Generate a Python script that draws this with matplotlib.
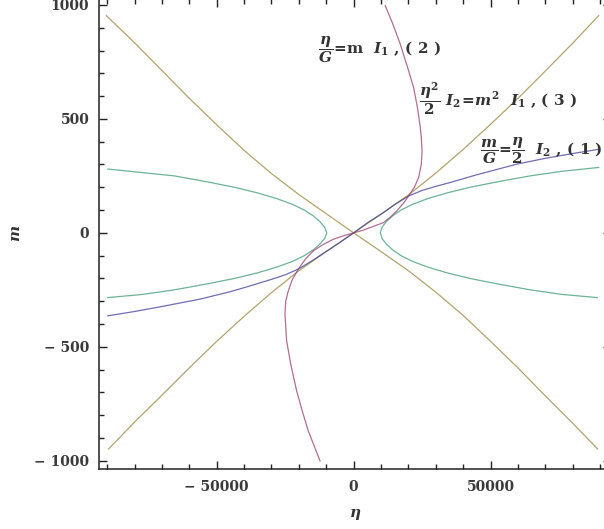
import matplotlib.pyplot as plt
from matplotlib.ticker import MultipleLocator

plt.rcParams['mathtext.fontset'] = 'custom'
plt.rcParams['mathtext.rm'] = 'DejaVu Serif:bold'
plt.rcParams['mathtext.it'] = 'DejaVu Serif:italic:bold'
plt.rcParams['mathtext.bf'] = 'DejaVu Serif:bold'

# curve readings (eta, m)
# (3) tan, rising branch
tan_up_eta = [-89500, -80000, -70000, -60000, -50000, -40000, -30000, -20000, -10000, 0,
              10000, 20000, 30000, 40000, 50000, 60000, 70000, 80000, 89500]
tan_up_m = [-948, -830, -712, -592, -476, -366, -262, -166, -82, 0,
            82, 166, 262, 366, 476, 590, 710, 832, 953]
# (3) tan, falling branch
tan_dn_eta = [-90300, -80000, -70000, -60000, -50000, -40000, -30000, -20000, -10000, 0,
              10000, 20000, 30000, 40000, 50000, 60000, 70000, 80000, 89100]
tan_dn_m = [953, 834, 712, 590, 474, 362, 260, 168, 84, 0,
            -82, -166, -260, -362, -476, -592, -715, -835, -948]
# (1) blue
blue_eta = [-89800, -80000, -70000, -56200, -45000, -37900, -30000, -25000, -20200, -15000, -9800, -5000, 0,
            5000, 10900, 15000, 20100, 25000, 30000, 35300, 45000, 59800, 70000, 80000, 89700]
blue_m = [-364, -345, -323, -291, -258, -233, -204, -184, -159, -121, -80, -42, 0,
          44, 89, 124, 162, 186, 204, 221, 255, 302, 327, 348, 367]
# (2) magenta
mag_eta = [-12270, -14400, -16560, -18800, -20800, -22900, -24470, -25090, -24800, -23880, -22400, -20220,
           -17600, -14720, -11000, -7400, -3500, 0,
           3000, 6040, 10900, 13500, 15800, 18200, 20070, 22200, 23740, 24700, 25000, 24700,
           24360, 23300, 21900, 19600, 17030, 14200, 11540]
mag_m = [-1001, -935, -869, -780, -694, -580, -474, -357, -300, -255, -205, -159,
         -115, -79, -50, -28, -12, 0,
         10, 23, 45, 70, 97, 130, 162, 200, 243, 300, 360, 420,
         462, 550, 638, 730, 828, 920, 997]
# green, right branch
grn_r_m = [-284, -270, -250, -225, -200, -175, -150, -125, -100, -75, -50, -25, 0,
           25, 50, 75, 100, 125, 150, 175, 200, 225, 250, 270, 287]
grn_r_eta = [89000, 76000, 64500, 53000, 42500, 34000, 27000, 21500, 17300, 14300, 12000, 10400, 9750,
             10400, 12000, 14300, 17300, 21500, 27000, 34000, 42500, 53000, 64500, 76000, 89500]
# green, left branch
grn_l_m = [-284, -270, -250, -225, -200, -175, -150, -125, -100, -75, -50, -25, 0,
           25, 50, 75, 100, 125, 150, 175, 200, 225, 250, 280]
grn_l_eta = [-89800, -77000, -65500, -54000, -43500, -35000, -28000, -22300, -18000, -14800, -12400, -10600, -9800,
             -10600, -12400, -14800, -18000, -22300, -28000, -35000, -43500, -54000, -65500, -89800]

x_ticks = [-50000, 0, 50000]
x_labels = ['\u2212 50000', '0', '50000']
y_ticks = [-1000, -500, 0, 500, 1000]
y_labels = ['\u2212 1000', '\u2212 500', '0', '500', '1000']

c_blue = (0.24, 0.24, 0.6)
c_mag = (0.6, 0.24, 0.442)
c_grn = (0.24, 0.6, 0.442)
c_tan = (0.6, 0.517, 0.24)

fig = plt.figure(figsize=(6.04, 5.29), dpi=100)
ax = fig.add_axes([99/604, 60/529, 512/604, 470/529])

lw = 0.9
ax.plot(grn_r_eta, grn_r_m, color=c_grn, lw=lw, alpha=0.75)
ax.plot(grn_l_eta, grn_l_m, color=c_grn, lw=lw, alpha=0.75)
ax.plot(tan_up_eta, tan_up_m, color=c_tan, lw=lw, alpha=0.75)
ax.plot(tan_dn_eta, tan_dn_m, color=c_tan, lw=lw, alpha=0.75)
ax.plot(blue_eta, blue_m, color=c_blue, lw=lw, alpha=0.75)
ax.plot(mag_eta, mag_m, color=c_mag, lw=lw, alpha=0.75)

ax.set_xlim(-93000, 94000)
ax.set_ylim(-1036, 1026)

# frame ticks, Mathematica style
ax.set_xticks(x_ticks)
ax.set_xticklabels(x_labels)
ax.set_yticks(y_ticks)
ax.set_yticklabels(y_labels)
ax.xaxis.set_minor_locator(MultipleLocator(10000))
ax.yaxis.set_minor_locator(MultipleLocator(100))
ax.tick_params(which='both', direction='in', top=True, right=True, color='#222222', width=1)
ax.tick_params(which='major', length=6)
ax.tick_params(which='minor', length=3.5)
ax.tick_params(axis='x', pad=8)
ax.tick_params(axis='y', pad=7)
for lab in ax.get_xticklabels() + ax.get_yticklabels():
    lab.set_family('DejaVu Serif')
    lab.set_weight('bold')
    lab.set_size(10)
    lab.set_color('#3a3a3a')
for sp in ax.spines.values():
    sp.set_color('#222222')
    sp.set_linewidth(1.1)

fig.text(355/604, 1 - 514/529, r'$\eta$', fontsize=11, color='#333333', ha='center', va='center')
fig.text(16/604, 1 - 233/529, r'$m$', fontsize=11, color='#333333', ha='center', va='center', rotation=90)

# curve labels
txt = dict(fontsize=11, color='#333333', ha='left', va='center', family='DejaVu Serif', weight='bold')
ax.text(-13000, 803, r'$\dfrac{\eta}{G}\!=\!\mathrm{m}\ \ I_1$ , ( 2 )', **txt)
ax.text(24000, 588, r'$\dfrac{\eta^2}{2}\ I_2\!=\!m^2\ \ I_1$ , ( 3 )', **txt)
ax.text(46300, 360, r'$\dfrac{m}{G}\!=\!\dfrac{\eta}{2}\ \ I_2$ , ( 1 )', **txt)

fig.savefig('out.png', dpi=100)
